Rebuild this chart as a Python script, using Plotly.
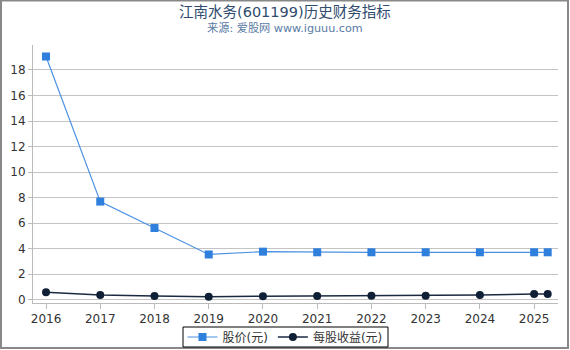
import plotly.graph_objects as go

years = [2016, 2017, 2018, 2019, 2020, 2021, 2022, 2023, 2024, 2025, 2025.25]
price = [19.05, 7.69, 5.62, 3.55, 3.77, 3.72, 3.72, 3.72, 3.72, 3.72, 3.72]
eps = [0.60, 0.37, 0.29, 0.23, 0.28, 0.29, 0.31, 0.31, 0.37, 0.45, 0.45]
tick_years = [2016, 2017, 2018, 2019, 2020, 2021, 2022, 2023, 2024, 2025]
y_ticks = [0, 2, 4, 6, 8, 10, 12, 14, 16, 18]

FONT = "DejaVu Sans, Noto Sans CJK SC, sans-serif"

fig = go.Figure()
fig.add_trace(go.Scatter(
    x=years, y=price, name="股价(元)", mode="lines+markers",
    line=dict(color="#4a90e2", width=1.2),
    marker=dict(symbol="square", size=8, color="#2f7fdc"),
))
fig.add_trace(go.Scatter(
    x=years, y=eps, name="每股收益(元)", mode="lines+markers",
    line=dict(color="#1a2a40", width=1.5),
    marker=dict(symbol="circle", size=8, color="#0f1f36"),
))

L, R, T, B = 33, 12, 45, 47
W, H = 570, 350
pw, ph = W - L - R, H - T - B


def px_x(x):
    return (x - L) / pw


def px_y(y):
    return (H - B - y) / ph


fig.update_layout(
    width=W, height=H,
    margin=dict(l=L, r=R, t=T, b=B, autoexpand=False),
    paper_bgcolor="white", plot_bgcolor="white",
    font=dict(family=FONT, size=12, color="#333333"),
    showlegend=True,
    legend=dict(
        orientation="h", x=px_x(W / 2), xanchor="center",
        y=px_y(337), yanchor="middle",
        bgcolor="rgba(0,0,0,0)", borderwidth=0,
        font=dict(size=12, color="#333333"),
        itemwidth=30, tracegroupgap=0,
    ),
    xaxis=dict(
        range=[2015.76, 2025.44], tickmode="array", tickvals=tick_years,
        ticktext=[str(t) for t in tick_years],
        showgrid=False, zeroline=False, showline=True, linecolor="#bbbbbb",
        ticks="outside", ticklen=5, tickcolor="#bbbbbb",
        tickfont=dict(size=12, color="#333333"),
    ),
    yaxis=dict(
        range=[-0.25, 19.95], tickmode="array", tickvals=y_ticks,
        showgrid=True, gridcolor="#c4c4c4", gridwidth=1, zeroline=False,
        showline=True, linecolor="#bbbbbb", ticks="outside", ticklen=4,
        tickcolor="#bbbbbb", tickfont=dict(size=12, color="#333333"),
    ),
    annotations=[
        dict(text="江南水务(601199)历史财务指标", xref="paper", yref="paper",
             x=px_x(W / 2), y=px_y(12), xanchor="center", yanchor="middle",
             showarrow=False, font=dict(size=14.5, color="#2f4b6e")),
        dict(text="来源: 爱股网 www.iguuu.com", xref="paper", yref="paper",
             x=px_x(W / 2), y=px_y(28), xanchor="center", yanchor="middle",
             showarrow=False, font=dict(size=11.2, color="#5a7aa5")),
    ],
    shapes=[
        dict(type="rect", xref="paper", yref="paper",
             x0=px_x(1), x1=px_x(W - 2), y0=px_y(H - 2), y1=px_y(0.5),
             line=dict(color="#888888", width=2), layer="above"),
        dict(type="rect", xref="paper", yref="paper",
             x0=px_x(183), x1=px_x(388), y0=px_y(347), y1=px_y(327),
             line=dict(color="#000000", width=1), layer="above"),
    ],
)

fig.write_html("out.html")
